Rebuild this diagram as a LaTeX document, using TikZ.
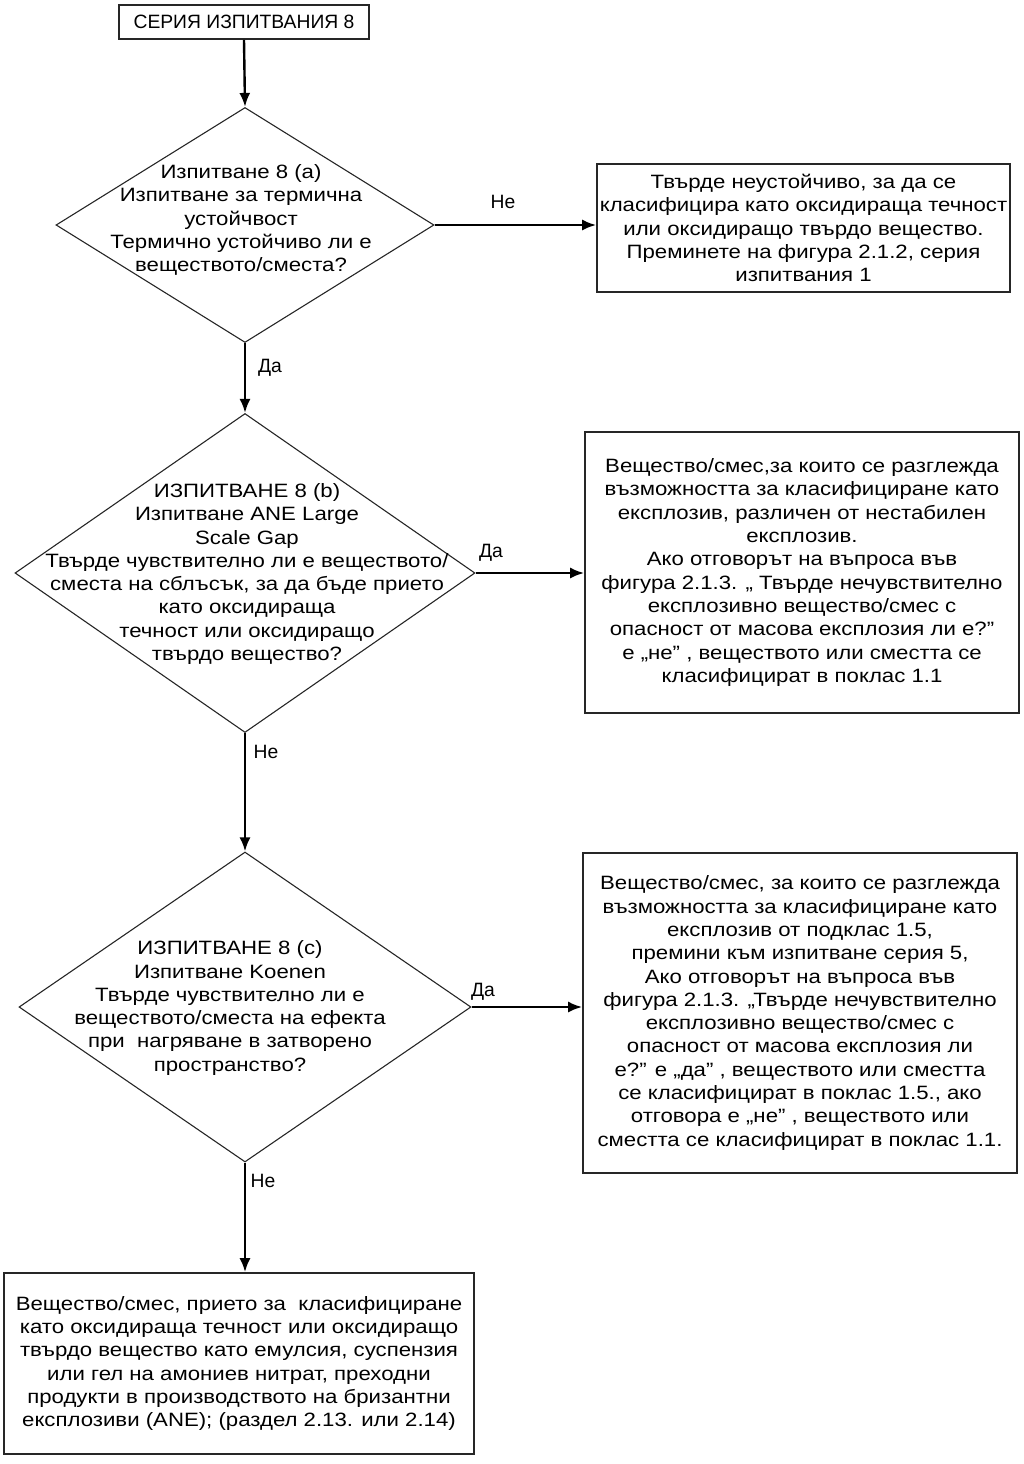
\documentclass[tikz,border=0pt]{standalone}
\usepackage{fontspec}
\setmainfont{Liberation Sans}
\newfontfamily\bodyfont[FakeStretch=1.15]{Liberation Sans}
\usetikzlibrary{shapes.geometric,arrows.meta}
\begin{document}
\begin{tikzpicture}[x=1pt,y=-1pt,
  txt/.style={align=center,font=\bodyfont\fontsize{19.3}{23.3}\selectfont,inner sep=0pt},
  box/.style={draw=black!85,line width=1.6pt,inner sep=0pt,align=center,font=\bodyfont\fontsize{19.3}{23.3}\selectfont},
  dia/.style={draw=black!85,line width=1.1pt,shape=diamond,inner sep=0pt},
  arr/.style={line width=2.4pt,-{Latex[length=14pt,width=11pt]}},
  lbl/.style={font=\fontsize{19.3}{23.3}\selectfont,inner sep=0pt}
]
\useasboundingbox (0,0) rectangle (1023,1464);

% start box
\node[box,font=\fontsize{19.3}{23.3}\selectfont,minimum width=250,minimum height=34] (start) at (244,22) {СЕРИЯ ИЗПИТВАНИЯ 8};

% diamond 1
\node[dia,minimum width=378,minimum height=235] (d1) at (245,225) {};
\node[txt] (t1) at (241,220) {Изпитване 8 (a)\\Изпитване за термична\\устойчвост\\Термично устойчиво ли е\\веществото/сместа?};

% right box 1
\node[box,minimum width=413,minimum height=128] (r1) at (803.5,228) {Твърде неустойчиво, за да се\\класифицира като оксидираща течност\\или оксидиращо твърдо вещество.\\Преминете на фигура 2.1.2, серия\\изпитвания 1};

% diamond 2
\node[dia,minimum width=460,minimum height=319] (d2) at (245,573) {};
\node[txt] (t2) at (247,574) {ИЗПИТВАНЕ 8 (b)\\Изпитване ANE Large\\Scale Gap\\Твърде чувствително ли е веществото/\\сместа на сблъсък, за да бъде прието\\като оксидираща\\течност или оксидиращо\\твърдо вещество?};

% right box 2
\node[box,minimum width=434,minimum height=281] (r2) at (802,572.5) {Вещество/смес,за които се разглежда\\възможността за класифициране като\\експлозив, различен от нестабилен\\експлозив.\\Ако отговорът на въпроса във\\фигура 2.1.3. „ Твърде нечувствително\\експлозивно вещество/смес с\\опасност от масова експлозия ли е?”\\е „не” , веществото или сместта се\\класифицират в поклас 1.1};

% diamond 3
\node[dia,minimum width=452,minimum height=310] (d3) at (245,1007) {};
\node[txt] (t3) at (230,1008) {ИЗПИТВАНЕ 8 (c)\\Изпитване Koenen\\Твърде чувствително ли е\\веществото/сместа на ефекта\\при\ \ нагряване в затворено\\пространство?};

% right box 3
\node[box,minimum width=434,minimum height=320] (r3) at (800,1013) {Вещество/смес, за които се разглежда\\възможността за класифициране като\\експлозив от подклас 1.5,\\премини към изпитване серия 5,\\Ако отговорът на въпроса във\\фигура 2.1.3. „Твърде нечувствително\\експлозивно вещество/смес с\\опасност от масова експлозия ли\\е?” е „да” , веществото или сместта\\се класифицират в поклас 1.5., ако\\отговора е „не” , веществото или\\сместта се класифицират в поклас 1.1.};

% bottom box
\node[box,minimum width=470,minimum height=181] (end) at (239,1363.5) {Вещество/смес, прието за\ \ класифициране\\като оксидираща течност или оксидиращо\\твърдо вещество като емулсия, суспензия\\или гел на амониев нитрат, преходни\\продукти в производството на бризантни\\експлозиви (ANE); (раздел 2.13. или 2.14)};

% connectors
\draw[arr] (start.south) -- (d1.north);
\draw[arr] (d1.east) -- (d1.east -| r1.west);
\draw[arr] (d1.south) -- (d2.north);
\draw[arr] (d2.east) -- (d2.east -| r2.west);
\draw[arr] (d2.south) -- (d3.north);
\draw[arr] (d3.east) -- (d3.east -| r3.west);
\draw[arr] (d3.south) -- (d3.south |- end.north);

% labels
\node[lbl] (l1) at (503,202) {Не};
\node[lbl] (l2) at (270,368) {Да};
\node[lbl] (l3) at (491,553) {Да};
\node[lbl] (l4) at (266,752) {Не};
\node[lbl] (l5) at (483,992) {Да};
\node[lbl] (l6) at (263,1181) {Не};
\end{tikzpicture}
\end{document}
